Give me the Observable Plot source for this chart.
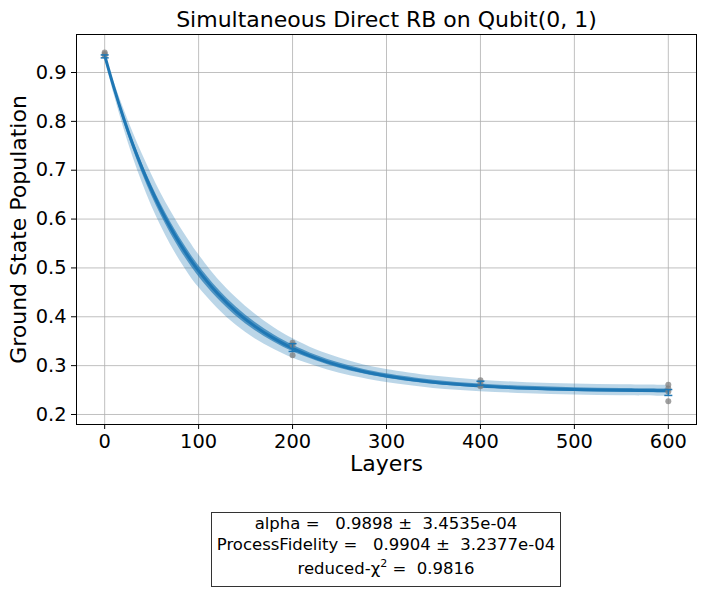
<!DOCTYPE html>
<html>
<head>
<meta charset="utf-8">
<script src="https://cdn.jsdelivr.net/npm/d3@7"></script>
<script src="https://cdn.jsdelivr.net/npm/@observablehq/plot@0.6"></script>
<style>
  body { margin: 0; background: #fff; }
  #wrap { position: relative; width: 706px; height: 592px; font-family: "DejaVu Sans", sans-serif; }
  #box { position: absolute; left: 211px; top: 512px; width: 348px; height: 73px; border: 1px solid #333;
         font-size: 16.5px; text-align: center; white-space: pre; color: #000; box-sizing: content-box; }
  #box div { position: absolute; left: 0; right: 0; line-height: 20px; }
</style>
</head>
<body>
<div id="wrap"><div id="box"></div></div>
<script>
// ---- data ----
const rawX = [0, 0, 0, 200, 200, 200, 400, 400, 400, 600, 600, 600, 600];
const rawY = [0.941, 0.938, 0.935, 0.347, 0.342, 0.321, 0.270, 0.265, 0.258, 0.261, 0.253, 0.247, 0.227];
const meanX = [0, 200, 400, 600];
const meanY = [0.933, 0.337, 0.264, 0.245];
const meanErr = [0.003, 0.008, 0.004, 0.006];
const fitX = [0, 10, 20, 30, 40, 50, 60, 70, 80, 90, 100, 120, 140, 160, 180, 200, 225, 250, 275, 300, 350, 400, 450, 500, 550, 600];
const fitY = [0.935, 0.868, 0.8075, 0.7528, 0.7036, 0.659, 0.6189, 0.5827, 0.55, 0.5205, 0.4938, 0.448, 0.4107, 0.3804, 0.3557, 0.3355, 0.3155, 0.300, 0.288, 0.2788, 0.266, 0.2584, 0.2538, 0.2511, 0.2495, 0.2485];
const fitSigma = [0.0018, 0.0042, 0.0066, 0.0084, 0.0098, 0.0108, 0.0112, 0.0116, 0.0116, 0.0116, 0.0112, 0.0102, 0.0094, 0.0084, 0.0074, 0.0066, 0.0056, 0.0052, 0.0046, 0.0045, 0.0042, 0.0039, 0.0038, 0.0038, 0.0038, 0.0038];
const xTicks = [0, 100, 200, 300, 400, 500, 600];
const yTicks = [0.2, 0.3, 0.4, 0.5, 0.6, 0.7, 0.8, 0.9];
const titleText = "Simultaneous Direct RB on Qubit(0, 1)";
const xLabel = "Layers";
const yLabel = "Ground State Population";
const boxLines = ["alpha =   0.9898 \u00b1  3.4535e-04", "ProcessFidelity =   0.9904 \u00b1  3.2377e-04"];

const raw = rawX.map((x, i) => ({x, y: rawY[i]}));
const means = meanX.map((x, i) => ({x, y: meanY[i], lo: meanY[i] - meanErr[i], hi: meanY[i] + meanErr[i]}));
const fit = fitX.map((x, i) => ({x, y: fitY[i], s: fitSigma[i]}));

const blue = "#1f77b4";
const cap = {draw(ctx, size) { const r = Math.sqrt(size / Math.PI); ctx.moveTo(-r, 0); ctx.lineTo(r, 0); }};

const chart = Plot.plot({
  width: 706, height: 592,
  marginLeft: 76, marginRight: 10, marginTop: 34, marginBottom: 168,
  style: {fontFamily: "DejaVu Sans, sans-serif", fontSize: "19.4px", color: "#000", background: "#fff", overflow: "visible"},
  x: {domain: [-30, 630]},
  y: {domain: [0.1795, 0.9778]},
  marks: [
    Plot.gridX(xTicks, {stroke: "#b0b0b0", strokeOpacity: 1, strokeWidth: 0.8}),
    Plot.gridY(yTicks, {stroke: "#b0b0b0", strokeOpacity: 1, strokeWidth: 0.8}),
    Plot.areaY(fit, {x: "x", y1: d => d.y - 3 * d.s, y2: d => d.y + 3 * d.s, fill: blue, fillOpacity: 0.3, curve: "catmull-rom"}),
    Plot.areaY(fit, {x: "x", y1: d => d.y - d.s, y2: d => d.y + d.s, fill: blue, fillOpacity: 0.7, curve: "catmull-rom"}),
    Plot.line(fit, {x: "x", y: "y", stroke: blue, strokeWidth: 3, curve: "catmull-rom"}),
    Plot.dot(raw, {x: "x", y: "y", r: 3, fill: "#808080", fillOpacity: 0.75, stroke: "none"}),
    Plot.ruleX(means, {x: "x", y1: "lo", y2: "hi", stroke: blue, strokeWidth: 1.5}),
    Plot.dot(means, {x: "x", y: "lo", symbol: cap, r: 4, stroke: blue, strokeWidth: 1.5}),
    Plot.dot(means, {x: "x", y: "hi", symbol: cap, r: 4, stroke: blue, strokeWidth: 1.5}),
    Plot.frame({stroke: "#000", strokeWidth: 1}),
    Plot.axisX(xTicks, {tickSize: 5, tickPadding: 5, label: null, stroke: "#000", fontSize: 19.4}),
    Plot.axisY(yTicks, {tickSize: 5, tickPadding: 5, label: null, stroke: "#000", tickFormat: d3.format(".1f"), fontSize: 19.4}),
    Plot.text([titleText], {frameAnchor: "top", dy: -15, fontSize: 22, text: d => d, lineAnchor: "middle", textAnchor: "middle"}),
    Plot.text([xLabel], {frameAnchor: "bottom", dy: 39, fontSize: 22, text: d => d, lineAnchor: "middle", textAnchor: "middle"}),
    Plot.text([yLabel], {frameAnchor: "left", dx: -58, rotate: -90, fontSize: 22, text: d => d, lineAnchor: "middle", textAnchor: "middle"})
  ]
});
document.getElementById("wrap").prepend(chart);

const box = document.getElementById("box");
const tops = [1, 22, 46];
const contents = [boxLines[0], boxLines[1], "reduced-\u03c7<sup style=\"font-size:11px;vertical-align:7px;line-height:0\">2</sup> =  0.9816"];
contents.forEach((c, i) => {
  const d = document.createElement("div");
  d.style.top = tops[i] + "px";
  d.innerHTML = c;
  box.appendChild(d);
});
</script>
</body>
</html>
